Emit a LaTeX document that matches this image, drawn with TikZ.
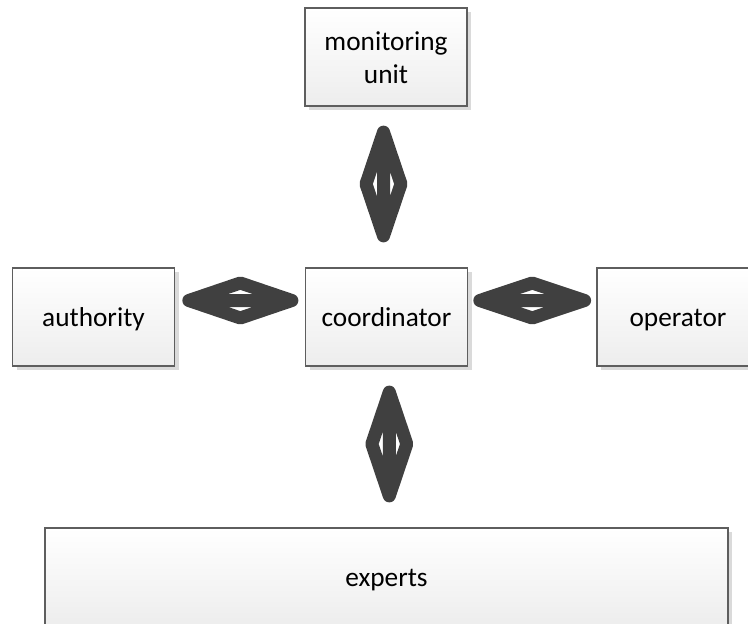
\documentclass[tikz,border=0pt]{standalone}
\usepackage{fontspec}
\setmainfont{Carlito}
\usetikzlibrary{calc,shadows}
\definecolor{boxline}{HTML}{5E5E5E}
\definecolor{boxshade}{HTML}{DADADA}
\definecolor{boxbottom}{HTML}{EDEDED}
\definecolor{linkfill}{HTML}{404040}

% two-headed link: open arrowheads drawn with a very thick stroke
\newcommand\biarrow[2]{%
  \path #1 coordinate (ba-s) #2 coordinate (ba-e);
  \path ($(ba-s)!0.5!(ba-e)$) coordinate (ba-m);
  \draw[linkshape] (ba-s) -- ($(ba-m)!17.5pt!90:(ba-s)$) -- (ba-e)
    -- ($(ba-m)!17.5pt!-90:(ba-s)$) -- cycle
    (ba-s) -- (ba-e);
}

\begin{document}
\begin{tikzpicture}[x=1pt,y=-1pt,
  unitbox/.style={rectangle, draw=boxline, line width=1.2pt,
    top color=white, bottom color=boxbottom, inner sep=0pt,
    minimum width=162pt, minimum height=98pt, align=center,
    font=\fontsize{27.3}{33.3}\selectfont,
    text height=19.4pt, text depth=0pt,
    drop shadow={shadow xshift=4pt, shadow yshift=-4pt, fill=boxshade, opacity=1}},
  twoline/.style={text height=52.6pt},
  linkshape/.style={draw=linkfill, line width=13pt, line join=round, line cap=round}]

\useasboundingbox (0,0) rectangle (748,624);
\clip (0,0) rectangle (748,624);

\node[unitbox, twoline] (mon) at (386,57) {monitoring\\unit};
\node[unitbox] (auth) at (93.5,317) {authority};
\node[unitbox] (coord) at (386.5,317) {coordinator};
\node[unitbox] (oper) at (678,317) {operator};
\node[unitbox, minimum width=683pt] (exp) at (386.5,577) {experts};

\biarrow{([shift={(-2.5,25.5)}]mon.south)}{([shift={(-3,-31.5)}]coord.north)}
\biarrow{([shift={(13.7,-16.5)}]auth.east)}{([shift={(-13,-16.5)}]coord.west)}
\biarrow{([shift={(11.7,-16.5)}]coord.east)}{([shift={(-11.8,-16.5)}]oper.west)}
\biarrow{([shift={(2.8,25.5)}]coord.south)}{([shift={(2.8,-31.5)}]exp.north)}

\end{tikzpicture}
\end{document}
